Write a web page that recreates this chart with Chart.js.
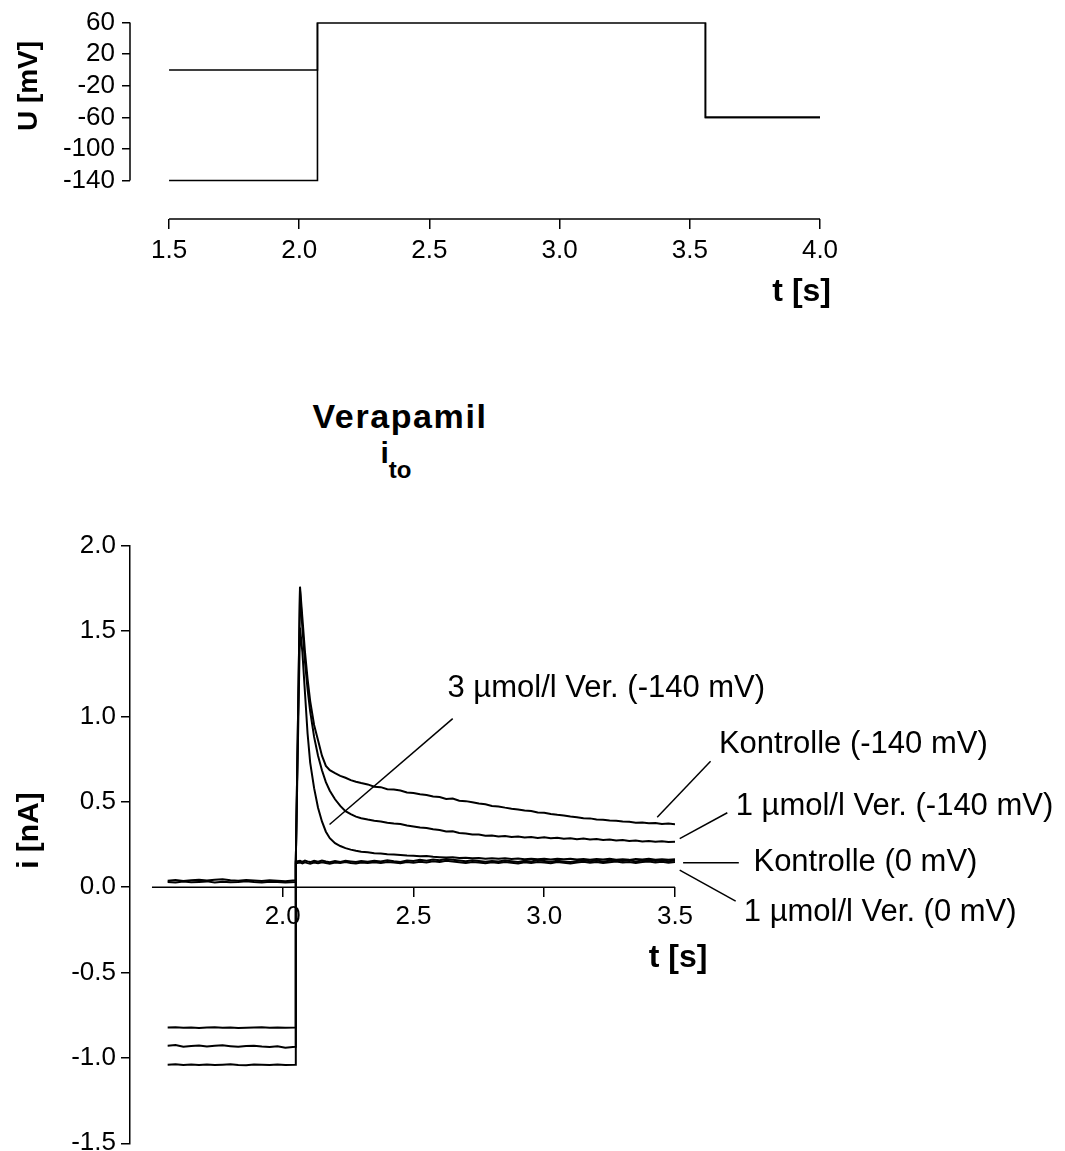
<!DOCTYPE html>
<html>
<head>
<meta charset="utf-8">
<script src="https://cdn.jsdelivr.net/npm/chart.js@4.4.1/dist/chart.umd.min.js"></script>
<style>
  html, body { margin: 0; padding: 0; background: #fff; overflow: hidden; }
  body { width: 1065px; height: 1151px; position: relative; font-family: "Liberation Sans", Arial, sans-serif; color: #000; }
  canvas { position: absolute; left: 0; }
  #protocol { top: 0; }
  #currents { top: 500px; }
  #title { position: absolute; left: 250px; width: 300px; text-align: center; font-weight: bold; }
  #title .main { position: absolute; left: 0; width: 300px; top: 399px; font-size: 34px; line-height: 34px; letter-spacing: 1.6px; }
  #title .sub { position: absolute; left: -4px; width: 300px; top: 438px; font-size: 30px; line-height: 30px; }
  #title .sub span { position: relative; top: 15px; font-size: 24px; }
</style>
</head>
<body>
<canvas id="protocol" width="1065" height="320"></canvas>
<div id="title"><div class="main">Verapamil</div><div class="sub">i<span>to</span></div></div>
<canvas id="currents" width="1065" height="665"></canvas>
<script>
// voltage protocol (top panel)
const stepTimes = [1.5, 2.07, 3.56, 4.0];
const protoFromNeg140 = [-140, 60, -60, -60];
const protoFromZero = [0, 60, -60, -60];
const uTicks = [-140, -100, -60, -20, 20, 60];
const tTicksTop = [1.5, 2.0, 2.5, 3.0, 3.5, 4.0];

// current traces (bottom panel), time in s, current in nA
const tPre = [1.56, 1.59, 1.62, 1.65, 1.68, 1.71, 1.74, 1.77, 1.80, 1.83, 1.86, 1.89, 1.92, 1.95, 1.98, 2.01, 2.048];
const tPost = [2.05, 2.066, 2.075, 2.085, 2.095, 2.105, 2.12, 2.135, 2.15, 2.165, 2.18, 2.2, 2.22, 2.24, 2.26, 2.28, 2.3,
  2.325, 2.35, 2.375, 2.4, 2.425, 2.45, 2.475, 2.5, 2.525, 2.55, 2.575, 2.6,
  2.625, 2.65, 2.675, 2.7, 2.725, 2.75, 2.775, 2.8, 2.825, 2.85, 2.875, 2.9,
  2.925, 2.95, 2.975, 3.0, 3.025, 3.05, 3.075, 3.1, 3.125, 3.15, 3.175, 3.2,
  3.225, 3.25, 3.275, 3.3, 3.325, 3.35, 3.375, 3.4, 3.425, 3.45, 3.475, 3.5];

const ctrl140Pre = [-1.040, -1.037, -1.042, -1.039, -1.041, -1.038, -1.042, -1.040, -1.037, -1.041, -1.043, -1.039, -1.040, -1.042, -1.038, -1.041, -1.040];
const ctrl140Post = [0.15, 1.76, 1.58, 1.38, 1.22, 1.09, 0.95, 0.86, 0.77, 0.71, 0.685, 0.668, 0.652, 0.641, 0.627, 0.618, 0.61,
  0.602, 0.588, 0.586, 0.574, 0.572, 0.566, 0.555, 0.551, 0.544, 0.540, 0.531, 0.528,
  0.517, 0.519, 0.506, 0.504, 0.497, 0.490, 0.486, 0.475, 0.473, 0.466, 0.460, 0.455,
  0.449, 0.446, 0.437, 0.436, 0.429, 0.424, 0.420, 0.414, 0.410, 0.404, 0.403, 0.397,
  0.395, 0.390, 0.389, 0.385, 0.383, 0.378, 0.379, 0.374, 0.376, 0.370, 0.373, 0.369];

const ver1_140Pre = [-0.928, -0.925, -0.935, -0.930, -0.927, -0.933, -0.929, -0.926, -0.931, -0.935, -0.930, -0.928, -0.933, -0.936, -0.932, -0.940, -0.935];
const ver1_140Post = [0.15, 1.74, 1.52, 1.32, 1.16, 1.03, 0.88, 0.77, 0.685, 0.615, 0.565, 0.515, 0.476, 0.445, 0.428, 0.413, 0.404,
  0.396, 0.389, 0.385, 0.377, 0.373, 0.370, 0.361, 0.356, 0.349, 0.347, 0.339, 0.335,
  0.326, 0.327, 0.318, 0.314, 0.308, 0.309, 0.301, 0.303, 0.297, 0.300, 0.294, 0.297,
  0.291, 0.294, 0.288, 0.292, 0.287, 0.290, 0.284, 0.287, 0.281, 0.285, 0.279, 0.282,
  0.276, 0.279, 0.273, 0.276, 0.270, 0.274, 0.268, 0.271, 0.266, 0.269, 0.264, 0.266];

const ver3_140Pre = [-0.822, -0.821, -0.823, -0.822, -0.824, -0.822, -0.821, -0.823, -0.822, -0.824, -0.823, -0.822, -0.821, -0.823, -0.822, -0.823, -0.822];
const ver3_140Post = [0.15, 1.52, 1.38, 1.14, 0.90, 0.73, 0.58, 0.465, 0.385, 0.325, 0.287, 0.258, 0.241, 0.229, 0.220, 0.213, 0.208,
  0.204, 0.199, 0.197, 0.193, 0.191, 0.188, 0.185, 0.184, 0.181, 0.183, 0.178, 0.176,
  0.174, 0.176, 0.171, 0.173, 0.169, 0.171, 0.167, 0.170, 0.166, 0.169, 0.165, 0.168,
  0.164, 0.167, 0.163, 0.166, 0.162, 0.166, 0.163, 0.167, 0.162, 0.165, 0.161, 0.165,
  0.162, 0.166, 0.161, 0.164, 0.160, 0.165, 0.162, 0.166, 0.161, 0.164, 0.160, 0.163];

const ctrl0Pre = [0.038, 0.042, 0.036, 0.041, 0.044, 0.039, 0.043, 0.046, 0.040, 0.037, 0.042, 0.039, 0.036, 0.041, 0.038, 0.035, 0.040];
const ctrl0Post = [0.150, 0.155, 0.148, 0.156, 0.151, 0.147, 0.154, 0.149, 0.156, 0.150, 0.146, 0.153, 0.148, 0.155, 0.151, 0.147, 0.153,
  0.149, 0.155, 0.151, 0.157, 0.152, 0.148, 0.156, 0.153, 0.160, 0.155, 0.162, 0.158,
  0.165, 0.160, 0.156, 0.152, 0.157, 0.153, 0.149, 0.154, 0.150, 0.156, 0.152, 0.148,
  0.155, 0.151, 0.157, 0.153, 0.149, 0.155, 0.151, 0.147, 0.154, 0.158, 0.152, 0.156,
  0.150, 0.155, 0.159, 0.153, 0.157, 0.151, 0.156, 0.160, 0.154, 0.158, 0.152, 0.156];

const ver1_0Pre = [0.030, 0.027, 0.033, 0.029, 0.031, 0.034, 0.028, 0.032, 0.029, 0.031, 0.035, 0.030, 0.028, 0.032, 0.030, 0.027, 0.031];
const ver1_0Post = [0.140, 0.145, 0.139, 0.146, 0.141, 0.137, 0.144, 0.140, 0.146, 0.142, 0.138, 0.145, 0.141, 0.147, 0.142, 0.139, 0.145,
  0.141, 0.146, 0.142, 0.148, 0.144, 0.140, 0.147, 0.143, 0.149, 0.145, 0.152, 0.148,
  0.155, 0.150, 0.146, 0.142, 0.148, 0.144, 0.140, 0.146, 0.142, 0.147, 0.143, 0.139,
  0.146, 0.142, 0.148, 0.144, 0.140, 0.147, 0.143, 0.139, 0.145, 0.149, 0.143, 0.147,
  0.141, 0.146, 0.150, 0.144, 0.148, 0.142, 0.147, 0.151, 0.145, 0.149, 0.143, 0.147];

const iTicks = [-1.5, -1.0, -0.5, 0.0, 0.5, 1.0, 1.5, 2.0];
const tTicksBottom = [2.0, 2.5, 3.0, 3.5];
const tAxisBottom = [1.5, 3.5];

// labels with their leader lines, in data units
const notes = [
  { text: '3 µmol/l Ver. (-140 mV)', at: [2.63, 1.164], from: [2.65, 0.987], to: [2.179, 0.367] },
  { text: 'Kontrolle (-140 mV)', at: [3.668, 0.836], from: [3.636, 0.738], to: [3.432, 0.41] },
  { text: '1 µmol/l Ver. (-140 mV)', at: [3.732, 0.47], from: [3.70, 0.436], to: [3.518, 0.284] },
  { text: 'Kontrolle (0 mV)', at: [3.80, 0.143], from: [3.531, 0.143], to: [3.744, 0.143] },
  { text: '1 µmol/l Ver. (0 mV)', at: [3.763, -0.15], from: [3.518, 0.1], to: [3.732, -0.082] }
];

const FONT = '"Liberation Sans", Arial, sans-serif';
const tickFont = { family: FONT, size: 26 };

function pts(xs, ys) {
  return xs.map((x, i) => ({ x: x, y: ys[i] }));
}
function trace(pre, post) {
  return pts(tPre, pre).concat(pts(tPost, post));
}
function setTicks(list) {
  return scale => { scale.ticks = list.map(v => ({ value: v })); };
}
function axisTitle(ctx, text, size, x, y, rotate, align) {
  ctx.save();
  ctx.font = 'bold ' + size + 'px ' + FONT;
  ctx.fillStyle = '#000';
  ctx.textBaseline = 'middle';
  ctx.textAlign = align || 'center';
  ctx.translate(x, y);
  if (rotate) ctx.rotate(-Math.PI / 2);
  ctx.fillText(text, 0, 0);
  ctx.restore();
}

// ---- top: voltage protocol ----
new Chart(document.getElementById('protocol'), {
  type: 'line',
  data: {
    datasets: [
      { data: pts(stepTimes, protoFromNeg140), stepped: true },
      { data: pts(stepTimes, protoFromZero), stepped: true }
    ]
  },
  options: {
    responsive: false,
    animation: false,
    devicePixelRatio: 1,
    layout: { padding: { left: 0, top: 20, right: 245, bottom: 0 } },
    elements: { point: { radius: 0 }, line: { borderColor: '#000', borderWidth: 1.6, tension: 0 } },
    plugins: { legend: { display: false }, tooltip: { enabled: false } },
    scales: {
      x: {
        type: 'linear', min: 1.35, max: 4.0,
        afterBuildTicks: setTicks(tTicksTop),
        afterFit: s => { s.height = 101; },
        ticks: { font: tickFont, color: '#000', padding: 6, maxRotation: 0, autoSkip: false, callback: v => v.toFixed(1) },
        grid: { drawOnChartArea: false, drawTicks: true, tickLength: 10, color: '#000', lineWidth: 1.5 },
        border: { display: false }
      },
      y: {
        type: 'linear', min: -188.75, max: 60,
        afterBuildTicks: setTicks(uTicks),
        afterFit: s => { s.width = 130; },
        ticks: { font: tickFont, color: '#000', padding: 7, autoSkip: false, callback: v => String(v) },
        grid: { drawOnChartArea: false, drawTicks: true, tickLength: 8, color: '#000', lineWidth: 1.5 },
        border: { display: false }
      }
    }
  },
  plugins: [{
    id: 'protocolAxes',
    afterDraw(chart) {
      const { ctx, chartArea, scales: { x, y } } = chart;
      ctx.save();
      ctx.strokeStyle = '#000';
      ctx.lineWidth = 1.5;
      ctx.beginPath();
      ctx.moveTo(chartArea.left, y.getPixelForValue(uTicks[uTicks.length - 1]));
      ctx.lineTo(chartArea.left, y.getPixelForValue(uTicks[0]));
      ctx.moveTo(x.getPixelForValue(tTicksTop[0]), chartArea.bottom);
      ctx.lineTo(x.getPixelForValue(tTicksTop[tTicksTop.length - 1]), chartArea.bottom);
      ctx.stroke();
      ctx.restore();
      axisTitle(ctx, 'U [mV]', 28, 29, 86, true);
      axisTitle(ctx, 't [s]', 32, 831, 292, false, 'right');
    }
  }]
});

// ---- bottom: currents ----
const black = { borderColor: '#000', borderWidth: 2 };
new Chart(document.getElementById('currents'), {
  type: 'line',
  data: {
    datasets: [
      Object.assign({ label: 'Kontrolle (-140 mV)', data: trace(ctrl140Pre, ctrl140Post) }, black),
      Object.assign({ label: '1 µmol/l Ver. (-140 mV)', data: trace(ver1_140Pre, ver1_140Post) }, black),
      Object.assign({ label: '3 µmol/l Ver. (-140 mV)', data: trace(ver3_140Pre, ver3_140Post) }, black),
      Object.assign({ label: 'Kontrolle (0 mV)', data: trace(ctrl0Pre, ctrl0Post) }, black),
      Object.assign({ label: '1 µmol/l Ver. (0 mV)', data: trace(ver1_0Pre, ver1_0Post) }, black)
    ]
  },
  options: {
    responsive: false,
    animation: false,
    devicePixelRatio: 1,
    layout: { padding: { left: 0, top: 45.7, right: 390, bottom: 21.7 } },
    elements: { point: { radius: 0 }, line: { tension: 0 } },
    plugins: { legend: { display: false }, tooltip: { enabled: false } },
    scales: {
      x: {
        type: 'linear', position: { y: 0 }, min: 1.416, max: 3.5,
        afterBuildTicks: setTicks(tTicksBottom),
        ticks: { font: tickFont, color: '#000', padding: 4, maxRotation: 0, autoSkip: false, callback: v => v.toFixed(1) },
        grid: { drawOnChartArea: false, drawTicks: true, tickLength: 10, color: '#000', lineWidth: 1.5 },
        border: { display: false }
      },
      y: {
        type: 'linear', min: -1.5, max: 2.0,
        afterBuildTicks: setTicks(iTicks),
        afterFit: s => { s.width = 130; },
        ticks: { font: tickFont, color: '#000', padding: 5, autoSkip: false, callback: v => v.toFixed(1) },
        grid: { drawOnChartArea: false, drawTicks: true, tickLength: 9, color: '#000', lineWidth: 1.5 },
        border: { display: true, color: '#000', width: 1.5 }
      }
    }
  },
  plugins: [{
    id: 'currentAxes',
    beforeDatasetsDraw(chart) {
      const { ctx, scales: { x, y } } = chart;
      const y0 = y.getPixelForValue(0);
      ctx.save();
      ctx.strokeStyle = '#000';
      ctx.lineWidth = 1.5;
      ctx.beginPath();
      ctx.moveTo(x.getPixelForValue(tAxisBottom[0]), y0);
      ctx.lineTo(x.getPixelForValue(tAxisBottom[1]), y0);
      ctx.stroke();
      ctx.restore();
    },
    afterDraw(chart) {
      const { ctx, scales: { x, y } } = chart;
      ctx.save();
      ctx.strokeStyle = '#000';
      ctx.lineWidth = 1.5;
      ctx.fillStyle = '#000';
      ctx.font = '31px ' + FONT;
      ctx.textBaseline = 'middle';
      ctx.textAlign = 'left';
      notes.forEach(n => {
        ctx.beginPath();
        ctx.moveTo(x.getPixelForValue(n.from[0]), y.getPixelForValue(n.from[1]));
        ctx.lineTo(x.getPixelForValue(n.to[0]), y.getPixelForValue(n.to[1]));
        ctx.stroke();
        ctx.fillText(n.text, x.getPixelForValue(n.at[0]), y.getPixelForValue(n.at[1]));
      });
      ctx.restore();
      axisTitle(ctx, 'i [nA]', 30, 30, 330.5, true);
      axisTitle(ctx, 't [s]', 32, 678, 458, false);
    }
  }]
});
</script>
</body>
</html>
